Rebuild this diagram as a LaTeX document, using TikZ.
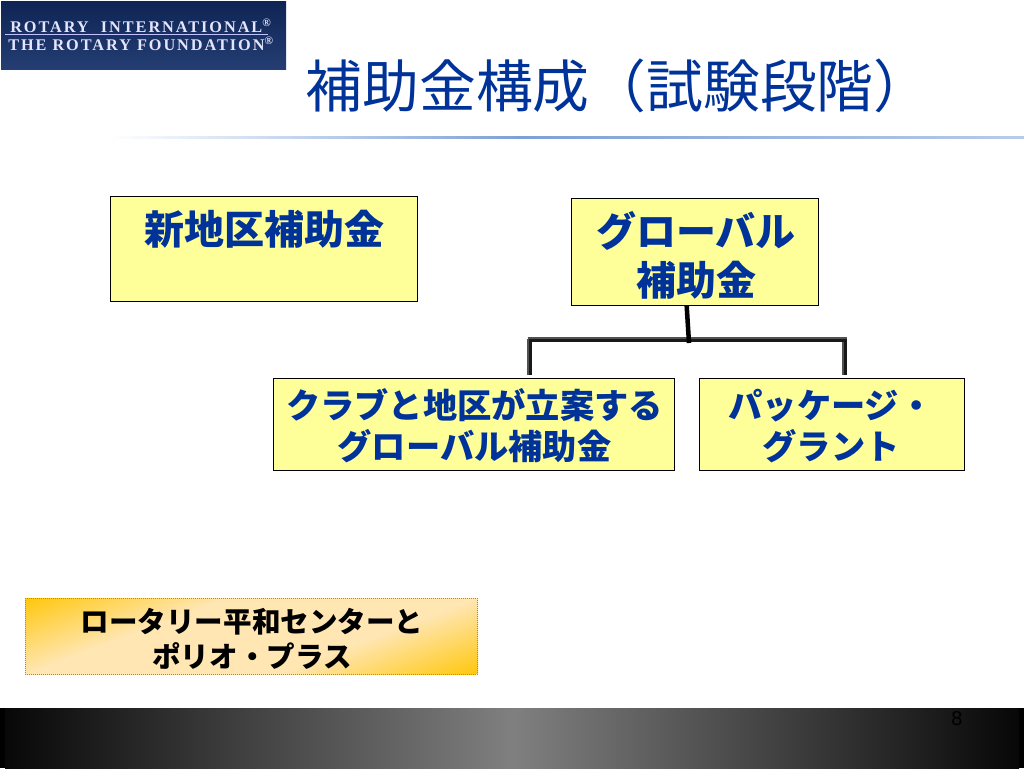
\documentclass[tikz,border=0pt]{standalone}
\usepackage{fontspec}
\setmainfont{Liberation Sans}
\newfontfamily\jp{Noto Sans CJK JP}
\newfontfamily\logofont[LetterSpace=12]{Liberation Serif}
\usetikzlibrary{calc}
\definecolor{titleblue}{RGB}{0,51,153}
\definecolor{boxyellow}{RGB}{255,255,153}
\definecolor{logoA}{RGB}{14,36,84}
\definecolor{logoB}{RGB}{36,62,115}
\definecolor{ruleblue}{RGB}{125,160,215}
\definecolor{goldA}{RGB}{255,199,13}
\definecolor{goldB}{RGB}{255,230,178}
\tikzset{
  x=0.75pt,y=-0.75pt,
  yellowbox/.style={draw=black,line width=0.75pt,fill=boxyellow,inner sep=0pt,anchor=north west},
  boxlabel/.style={text=titleblue,align=center,inner sep=0pt},
  linkshade/.style={line width=2.25pt,draw=black!68},
  linkmain/.style={line width=2.25pt,draw=black!90},
  stem/.style={line width=3.4pt,draw=black},
  logotext/.style={text=white!90!blue,font=\logofont\bfseries\fontsize{12.2pt}{13pt}\selectfont,inner sep=0pt,anchor=base west}
}
\begin{document}
\begin{tikzpicture}
\useasboundingbox (0,0) rectangle (1024,768);
\fill[white] (0,0) rectangle (1024,768);

% logo
\shade[top color=logoA,bottom color=logoB] (1,1) rectangle (286,69);
\node[logotext] (logoa) at (10,32) {ROTARY\hspace{0.75em}INTERNATIONAL\textsuperscript{®}};
\node[logotext] (logob) at (8,50) {THE ROTARY FOUNDATION\textsuperscript{®}};
\draw[line width=0.7pt,white!65!blue!70] (5,34.5) -- (268,34.5);

% title and rule
\node[anchor=west,inner sep=0pt,text=titleblue,font=\jp\fontsize{42.6pt}{46pt}\selectfont] (title) at (305.5,86) {補助金構成（試験段階）};
\shade[left color=white,right color=ruleblue] (110,136.2) rectangle (520,138.2);
\shade[left color=ruleblue,right color=ruleblue!55] (520,136.2) rectangle (1024,138.2);

% boxes
\node[yellowbox,minimum width=230.5pt,minimum height=79pt] (d) at (110,196) {};
\node[boxlabel,font=\jp\bfseries\fontsize{30pt}{34pt}\selectfont] (dt) at (264.5,229) {新地区補助金};

\node[yellowbox,minimum width=185.5pt,minimum height=80pt] (g) at (571,198) {};
\node[boxlabel,font=\jp\bfseries\fontsize{30pt}{37pt}\selectfont] (gt) at (696,255.5) {グローバル\\補助金};

\node[yellowbox,minimum width=301pt,minimum height=69pt] (c) at (272.5,377.5) {};
\node[boxlabel,font=\jp\bfseries\fontsize{25.7pt}{31pt}\selectfont] (ct) at (474.5,426) {クラブと地区が立案する\\グローバル補助金};

\node[yellowbox,minimum width=198.5pt,minimum height=69pt] (p) at (699,377.5) {};
\node[boxlabel,font=\jp\bfseries\fontsize{25.7pt}{31pt}\selectfont] (pt) at (831,426) {パッケージ・\\グラント};

% connectors
\coordinate (jm) at (689,343);
\coordinate (jl) at (530.5,340.5);
\coordinate (jr) at (845.5,340.5);
\draw[linkshade] ($(jl)+(-3,-2.5)$) -- ($(jr)+(1.5,-2.5)$);
\draw[linkshade] ($(jl)+(-2,-2)$) -- ($(c.north -| jl)+(-2,-2.5)$);
\draw[linkshade] ($(jr)+(-2,-2)$) -- ($(p.north -| jr)+(-2,-2.5)$);
\draw[linkmain] ($(jl)+(-1.5,0)$) -- ($(jr)+(1.5,0)$);
\draw[linkmain,shorten >=1.9pt] (jl) -- (c.north -| jl);
\draw[linkmain,shorten >=1.9pt] (jr) -- (p.north -| jr);
\draw[stem] ($(g.south)+(-8.5,0)$) -- (jm);

% gold box
\begin{scope}
\clip (25,598) rectangle (478,674);
\begin{scope}[transform canvas={rotate around={20.8:(251.5,636)}}]
\shade[top color=goldA,bottom color=goldB] (-300,520.5) rectangle (800,591.5);
\fill[goldB] (-300,591) rectangle (800,681);
\shade[top color=goldB,bottom color=goldA] (-300,680.5) rectangle (800,751.5);
\end{scope}
\end{scope}
\node[draw=black!45!boxyellow!70!orange,densely dotted,line width=0.5pt,minimum width=339pt,minimum height=57pt,anchor=north west,inner sep=0pt] (b) at (25,598) {};
\node[text=black,align=center,inner sep=0pt,font=\jp\bfseries\fontsize{21.4pt}{26pt}\selectfont] (bt) at (252,639) {ロータリー平和センターと\\ポリオ・プラス};

% footer
\fill[black] (0,708) rectangle (1024,768);
\shade[left color=black!97,right color=black!50!white] (5,708) rectangle (512,768);
\shade[left color=black!50!white,right color=black!97] (512,708) rectangle (1019,768);
\node[anchor=base,inner sep=0pt,text=black,font=\fontsize{15pt}{16pt}\selectfont] (num) at (957,725) {8};
\end{tikzpicture}
\end{document}
